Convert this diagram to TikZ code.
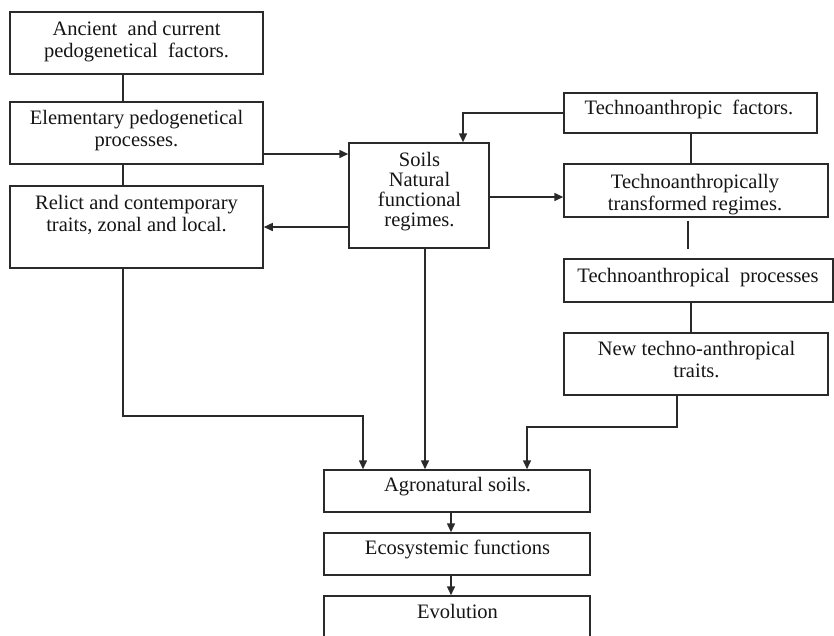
\documentclass[tikz,border=0pt]{standalone}
\usepackage{fontspec}
\setmainfont{Liberation Serif}
\usetikzlibrary{arrows.meta,calc}
\definecolor{ink}{HTML}{151515}
\definecolor{edge}{HTML}{2A2A2A}
\begin{document}
\begin{tikzpicture}[x=1pt,y=-1pt,
  box/.style={draw=edge, line width=1.5pt, inner sep=0pt, rectangle},
  txt/.style={anchor=north, inner sep=0pt, align=center, text=ink,
              font=\fontsize{20.5}{22}\selectfont},
  link/.style={draw=edge, line width=1.5pt},
  arr/.style={link, -{Triangle[length=9pt,width=8pt]}}]
\clip (0,0) rectangle (834,635);
\fill[white] (0,0) rectangle (834,635);

% left column
\node[box, minimum width=253pt, minimum height=62pt] (b1) at (136.5,43) {};
\node[box, minimum width=253pt, minimum height=62pt] (b2) at (136.5,133) {};
\node[box, minimum width=253pt, minimum height=82pt] (b3) at (136.5,227) {};
% centre
\node[box, minimum width=140pt, minimum height=105pt] (soils) at (419,195.5) {};
% right column
\node[box, minimum width=253pt, minimum height=40pt] (tf) at (690.5,113) {};
\node[box, minimum width=264pt, minimum height=53pt] (ttr) at (696,190.5) {};
\node[box, minimum width=269pt, minimum height=43pt] (tp) at (698.5,280.5) {};
\node[box, minimum width=264pt, minimum height=62pt] (nt) at (696,364) {};
% bottom chain
\node[box, minimum width=266pt, minimum height=42pt] (agro) at (457,491) {};
\node[box, minimum width=266pt, minimum height=42pt] (eco) at (457,554) {};
\node[box, minimum width=266pt, minimum height=60pt] (evo) at (457,626) {};

% texts
\node[txt] (t1) at (136.5,21) {Ancient\ \ and current\\pedogenetical\ \ factors.};
\node[txt] (t2) at (136.5,110) {Elementary pedogenetical\\processes.};
\node[txt] (t3) at (136.5,195) {Relict and contemporary\\traits, zonal and local.};
\node[txt, font=\fontsize{20.5}{20}\selectfont] (t4) at (419.5,152) {Soils\\Natural\\functional\\regimes.};
\node[txt] (t5) at (689,100) {Technoanthropic\ \ factors.};
\node[txt] (t6) at (695,174) {Technoanthropically\\transformed regimes.};
\node[txt] (t7) at (698,268) {Technoanthropical\ \ processes};
\node[txt] (t8) at (696.5,341) {New techno-anthropical\\traits.};
\node[txt] (t9) at (457.5,477) {Agronatural soils.};
\node[txt] (t10) at (457.5,540) {Ecosystemic functions};
\node[txt] (t11) at (457.5,604) {Evolution};

% helper coordinates for connector columns and bends
\coordinate (lcol) at (123,0);
\coordinate (rcol) at (688,0);
\coordinate (rcol2) at (691,0);
\coordinate (ntout) at (677,0);
\coordinate (lbend) at (0,416);
\coordinate (rbend) at (0,427);

% connectors
\draw[link] (b1.south -| lcol) -- (b2.north -| lcol);
\draw[link] (b2.south -| lcol) -- (b3.north -| lcol);
\draw[arr] ([yshift=-21pt]b2.east) -- ([yshift=-21pt]b2.east -| soils.west);
\draw[arr] ([yshift=-31.5pt]soils.west) -- ([yshift=-31.5pt]soils.west -| b3.east);
\draw[arr] (tf.west) -| ([xshift=44pt]soils.north);
\draw[arr] ([yshift=-1.5pt]soils.east) -- ([yshift=-1.5pt]soils.east -| ttr.west);
\draw[link] (tf.south -| rcol2) -- (ttr.north -| rcol2);
\draw[link] ([yshift=-3pt]ttr.south -| rcol) -- ([yshift=9pt]tp.north -| rcol);
\draw[link] (tp.south -| rcol2) -- (nt.north -| rcol2);
\draw[arr] (nt.south -| ntout) -- (ntout |- rbend) -| ([xshift=70pt]agro.north);
\draw[arr] (b3.south -| lcol) -- (lcol |- lbend) -| ([xshift=-94pt]agro.north);
\draw[arr] ([xshift=6pt]soils.south) -- ([xshift=6pt]soils.south |- agro.north);
\draw[arr] ([xshift=-6pt]agro.south) -- ([xshift=-6pt]agro.south |- eco.north);
\draw[arr] ([xshift=-6pt]eco.south) -- ([xshift=-6pt]eco.south |- evo.north);
\end{tikzpicture}
\end{document}
